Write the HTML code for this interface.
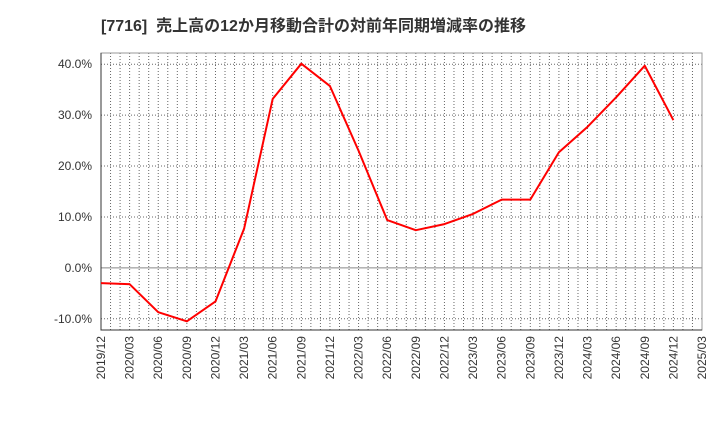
<!DOCTYPE html>
<html><head><meta charset="utf-8"><style>
body{margin:0;background:#fff;font-family:"Liberation Sans","Noto Sans CJK JP",sans-serif;}
svg text{font-family:"Liberation Sans","Noto Sans CJK JP",sans-serif;}
</style></head><body>
<svg id="c" width="720" height="440">
<text x="101" y="31" font-size="16" font-weight="bold" fill="#333" xml:space="preserve" style="white-space:pre">[7716]  売上高の12か月移動合計の対前年同期増減率の推移</text>
</svg>
<script>
const categories=["2019/12","2020/03","2020/06","2020/09","2020/12","2021/03","2021/06","2021/09","2021/12","2022/03","2022/06","2022/09","2022/12","2023/03","2023/06","2023/09","2023/12","2024/03","2024/06","2024/09","2024/12","2025/03"];
const values=[-3.0,-3.2,-8.7,-10.5,-6.6,7.7,33.2,40.1,35.7,23.0,9.4,7.4,8.6,10.6,13.4,13.4,22.7,27.7,33.5,39.7,29.0];
const yTicks=[-10,0,10,20,30,40];
const yTickLabels=["-10.0%","0.0%","10.0%","20.0%","30.0%","40.0%"];
const L=101,R=702,T=53,B=330,yMin=-12.2,yMax=42.2;
const svg=document.getElementById('c');const NS="http://www.w3.org/2000/svg";
function x(i){return L+(R-L)*i/(categories.length-1);}
function y(v){return B-(v-yMin)/(yMax-yMin)*(B-T);}
function mk(t,a){const e=document.createElementNS(NS,t);for(const k in a)e.setAttribute(k,a[k]);svg.appendChild(e);return e;}
const months=(categories.length-1)*3;
for(let m=1;m<months;m++){const xx=L+(R-L)*m/months;
const g=mk('line',{x1:xx,x2:xx,y1:T,y2:B,stroke:'#666','stroke-width':1,'stroke-dasharray':'1,2'});

}
yTicks.forEach((v,i)=>{const yy=y(v);
const g=mk('line',{x1:L,x2:R,y1:yy,y2:yy,stroke:v===0?'#888':'#666','stroke-width':1,'stroke-dasharray':v===0?'':'1,2'});


const t=mk('text',{x:L-9,y:yy+4,'text-anchor':'end','font-size':12,fill:'#333'});t.textContent=yTickLabels[i];

});
const fr=mk('rect',{x:L,y:T,width:R-L,height:B-T,fill:'none',stroke:'#999'});


const ax=mk('path',{d:`M${L},${T}V${B}H${R}`,fill:'none',stroke:'#333'});


categories.forEach((c,i)=>{const xx=x(i);
const t=mk('text',{x:xx+4,y:B+6,'text-anchor':'end','font-size':12,fill:'#333',transform:`rotate(-90 ${xx+4} ${B+6})`});t.textContent=c;

});
const p=mk('polyline',{points:values.map((v,i)=>x(i)+','+y(v)).join(' '),fill:'none',stroke:'#f00','stroke-width':2,'stroke-linejoin':'round'});


</script>
</body></html>
